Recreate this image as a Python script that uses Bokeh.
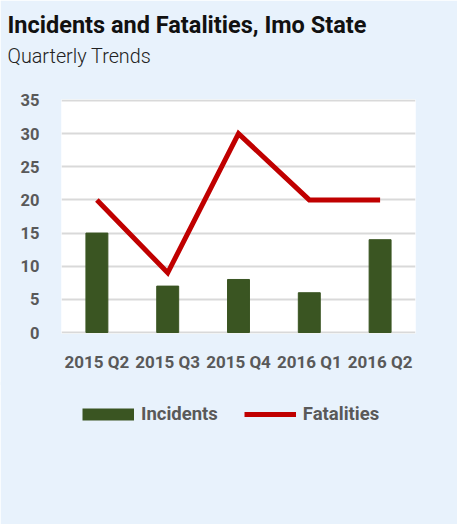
from bokeh.plotting import figure
from bokeh.models import Range1d, FactorRange, Legend, LegendItem, Title
from bokeh.layouts import column
from bokeh.embed import file_html
from bokeh.resources import INLINE

quarters = ["2015 Q2", "2015 Q3", "2015 Q4", "2016 Q1", "2016 Q2"]
incidents = [15, 7, 8, 6, 14]
fatalities = [20, 9, 30, 20, 20]
y_ticks = [0, 5, 10, 15, 20, 25, 30, 35]

FONT = "Roboto"
GRAY = "#595959"
GREEN = "#3a5522"
RED = "#c00000"
BG = "#e8f2fc"

W = 457
H1, H2 = 385, 143
FL, FR, FT, FB = 61, 415, 99, 333

# ---- main chart ----
p = figure(width=W, height=H1,
           x_range=FactorRange(factors=quarters),
           y_range=Range1d(-0.15, 35.15),
           output_backend="svg", toolbar_location=None,
           min_border_left=FL, min_border_right=W - FR,
           min_border_top=FT, min_border_bottom=H1 - FB,
           background_fill_color="white", border_fill_color=BG,
           outline_line_color=None)
p.title.visible = False

p.ygrid.grid_line_color = "#d9d9d9"
p.ygrid.grid_line_width = 2
p.xgrid.grid_line_color = None

p.yaxis.ticker = y_ticks
for ax in (p.xaxis[0], p.yaxis[0]):
    ax.axis_line_color = None
    ax.major_tick_line_color = None
    ax.minor_tick_line_color = None
    ax.major_tick_out = 0
    ax.major_tick_in = 0
    ax.major_label_text_font = FONT
    ax.major_label_text_font_style = "bold"
    ax.major_label_text_color = GRAY
p.yaxis.major_label_text_font_size = "16.5px"
p.yaxis.major_label_standoff = 22
p.xaxis.major_label_text_font_size = "17px"
p.xaxis.major_label_standoff = 18

p.vbar(x=quarters, top=incidents, width=0.31, bottom=0,
       fill_color=GREEN, line_color=GREEN)
p.line(x=quarters, y=fatalities, line_color=RED, line_width=5,
       line_join="miter", line_cap="butt")

# titles: spacer (nearest frame), subtitle, title
p.add_layout(Title(text=" ", text_font=FONT, text_font_size="1px",
                   standoff=25.3), "above")
p.add_layout(Title(text="Quarterly Trends", align="left", offset=-54,
                   text_font="Roboto Light", text_font_size="19.8px",
                   text_font_style="normal", text_color="#222222",
                   standoff=8), "above")
p.add_layout(Title(text="Incidents and Fatalities, Imo State", align="left",
                   offset=-54, text_font=FONT, text_font_size="23.5px",
                   text_font_style="bold", text_color="#111111",
                   standoff=0), "above")

# ---- legend strip (frame aligned with the chart above, overlapping 4px) ----
q = figure(width=W, height=H2, x_range=Range1d(0, 1), y_range=Range1d(0, 1),
           x_axis_type=None, y_axis_type=None,
           output_backend="svg", toolbar_location=None,
           min_border_left=FL, min_border_right=W - FR,
           min_border_top=0, min_border_bottom=0,
           background_fill_color=BG, border_fill_color=BG,
           outline_line_color=BG, outline_line_width=3,
           margin=(-4, 0, 0, 0))
q.title.visible = False
g_inc = q.line(x=[-5, -4], y=[-5, -5], line_color=GREEN, line_width=12,
               line_cap="butt")
g_fat = q.line(x=[-5, -4], y=[-5, -5], line_color=RED, line_width=5,
               line_cap="butt")

legend = Legend(items=[LegendItem(label="Incidents", renderers=[g_inc]),
                       LegendItem(label="Fatalities", renderers=[g_fat])],
                orientation="horizontal", location=(21, 99),
                glyph_width=52, glyph_height=14, label_standoff=7, spacing=26,
                padding=0, margin=0, background_fill_alpha=0,
                border_line_color=None,
                label_text_font=FONT, label_text_font_size="18.5px",
                label_text_font_style="bold", label_text_color=GRAY)
q.add_layout(legend)

layout = column(p, q, spacing=0)
open("out.html", "w").write(file_html(layout, INLINE))
